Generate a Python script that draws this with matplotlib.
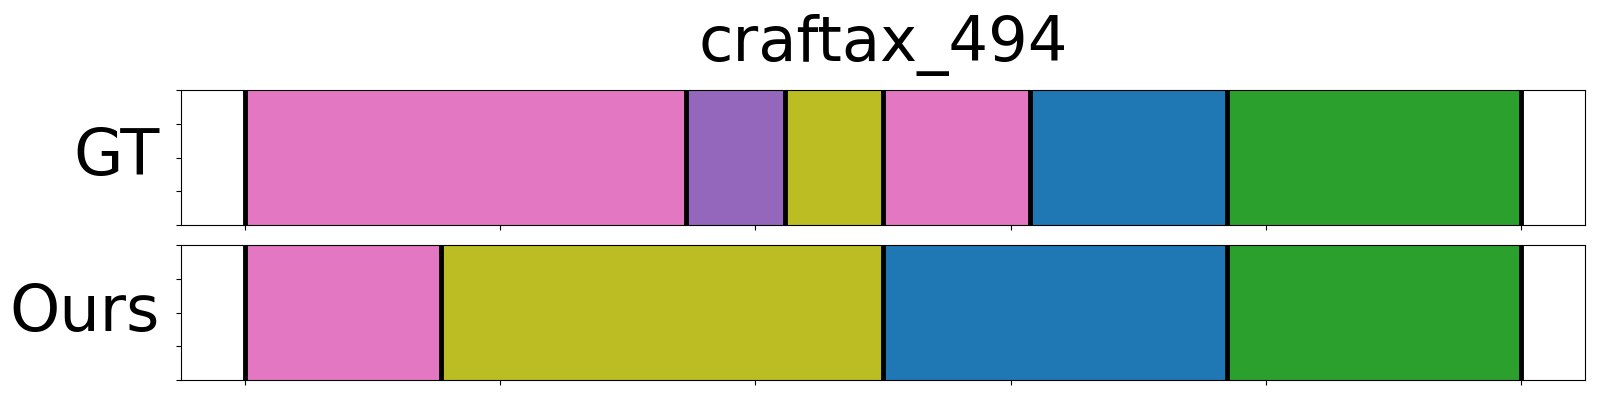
import numpy as np
import matplotlib
matplotlib.use("Agg")
import matplotlib.pyplot as plt

title = "craftax_494"
total_len = 130

gt_bounds = [0, 45, 55, 65, 80, 100, 130]
gt_colors = ["#e377c2", "#9467bd", "#bcbd22", "#e377c2", "#1f77b4", "#2ca02c"]

ours_bounds = [0, 20, 65, 100, 130]
ours_colors = ["#e377c2", "#bcbd22", "#1f77b4", "#2ca02c"]

rows = [("GT", gt_bounds, gt_colors), ("Ours", ours_bounds, ours_colors)]

fig = plt.figure(figsize=(16, 4), dpi=100)
axes = [fig.add_axes([0.113, 0.4375, 0.8776, 0.3375]),
        fig.add_axes([0.113, 0.05, 0.8776, 0.3375])]

for ax, (name, bounds, colors) in zip(axes, rows):
    b = np.array(bounds)
    ax.barh(0.5, np.diff(b), left=b[:-1], height=1, color=colors,
            edgecolor=colors, linewidth=1)
    ax.vlines(b, 0, 1, color="black", linewidth=3.5)
    ax.set_ylim(0, 1)
    ax.set_xlim(-0.05 * total_len, 1.05 * total_len)
    ax.set_xticks(np.linspace(0, total_len, 6))
    ax.set_xticklabels([])
    ax.set_yticks(np.linspace(0, 1, 5))
    ax.set_yticklabels([])
    ax.set_ylabel(name, rotation=0, fontsize=46, ha="right", va="center", labelpad=8)

axes[0].set_title(title, fontsize=45, pad=21)

fig.savefig("out.png", dpi=100)
